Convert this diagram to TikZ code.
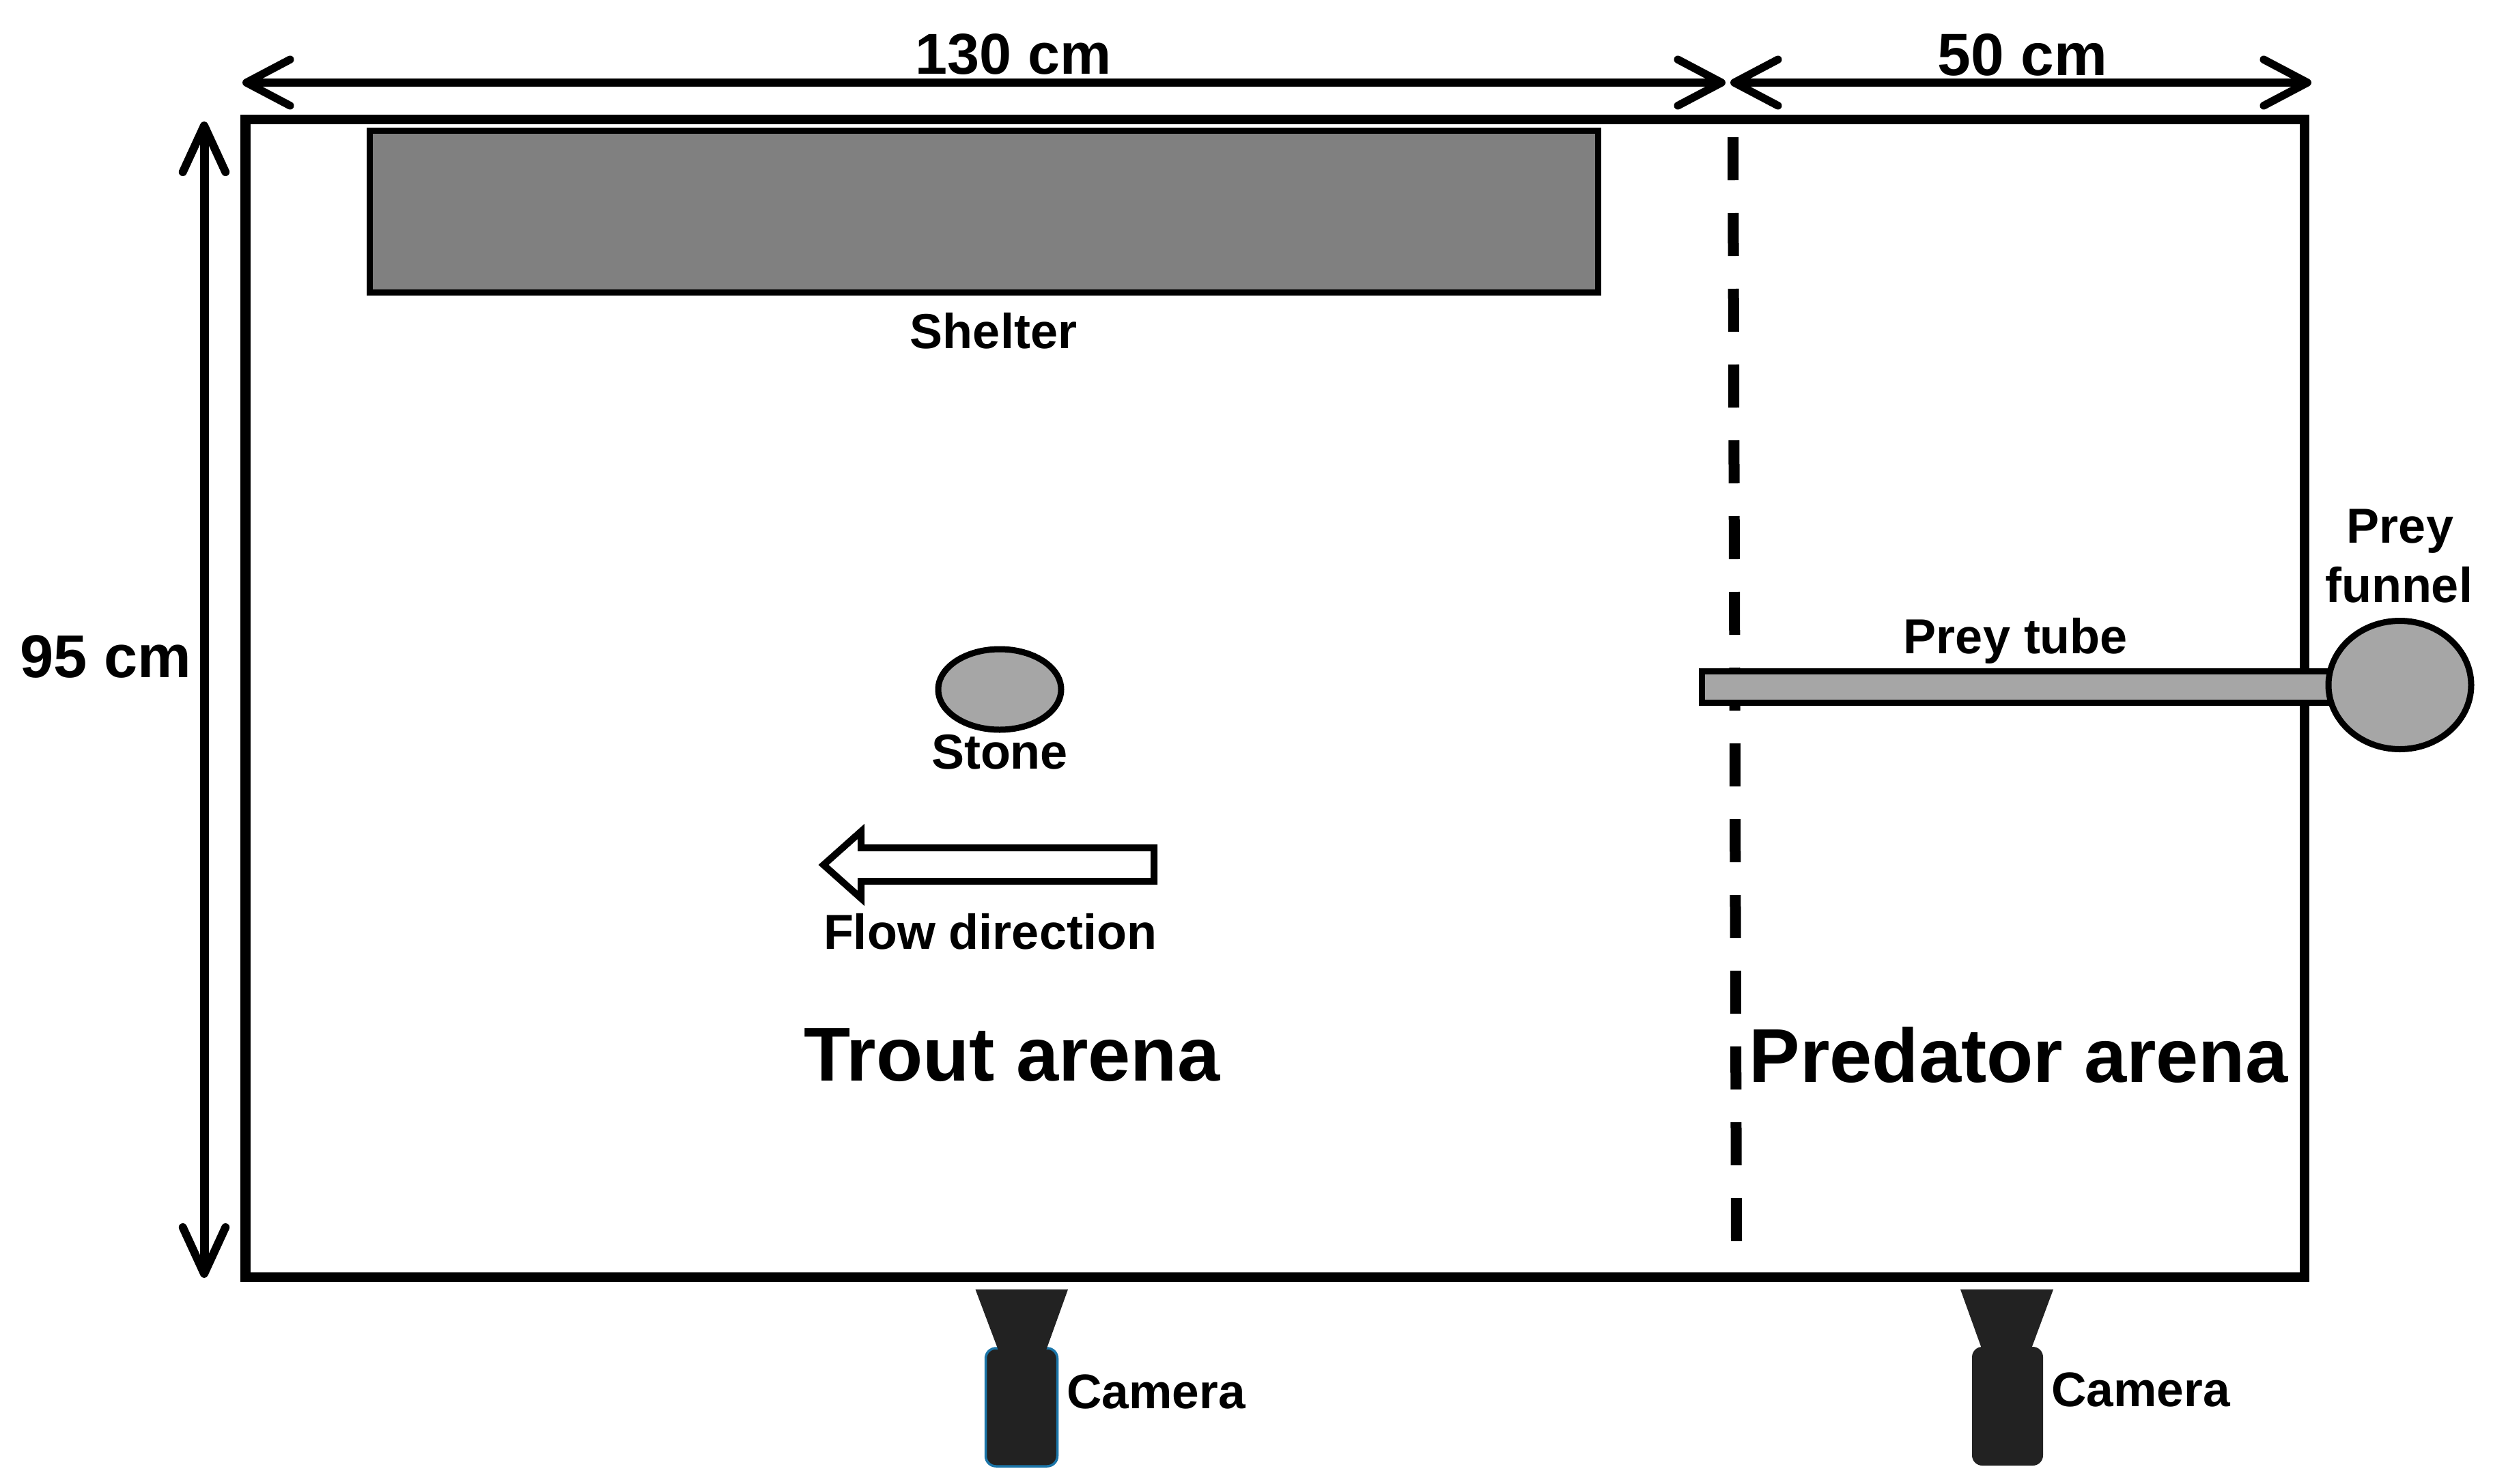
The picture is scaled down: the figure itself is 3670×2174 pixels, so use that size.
\documentclass[tikz,border=0pt]{standalone}
\usepackage{fontspec}
\setmainfont{Liberation Sans}
\usetikzlibrary{arrows.meta}
\definecolor{shelterfill}{HTML}{808080}
\definecolor{stonefill}{HTML}{A6A6A6}
\definecolor{camfill}{HTML}{222222}
\definecolor{camblue}{HTML}{1B75A8}
\tikzset{
  lab/.style={anchor=base,inner sep=0pt,font=\bfseries\fontsize{14.4}{17}\selectfont},
  camlab/.style={anchor=base,inner sep=0pt,font=\bfseries\fontsize{14.25}{17}\selectfont},
  biglab/.style={anchor=base,inner sep=0pt,font=\bfseries\fontsize{22.35}{26}\selectfont},
  dimlab/.style={anchor=base,inner sep=0pt,font=\bfseries\fontsize{17.5}{20}\selectfont},
  hdim/.style={line width=2.3pt,{Straight Barb[length=12.8pt,width=13.5pt,line width=2.3pt,round]}-{Straight Barb[length=12.8pt,width=13.5pt,line width=2.3pt,round]}},
  vdim/.style={line width=2.6pt,{Straight Barb[length=13.6pt,width=12.5pt,line width=2.4pt,round]}-{Straight Barb[length=13.6pt,width=12.5pt,line width=2.4pt,round]}},
  tank/.style={draw=black,line width=2.9pt,miter limit=10},
  part/.style={draw=black,line width=1.8pt},
  divider/.style={draw=black,line width=3.2pt,dash pattern=on 12.6pt off 9.6pt},
  lens/.style={fill=camfill,draw=none},
}
\begin{document}
\begin{tikzpicture}[x=0.2pt,y=-0.2pt]
\useasboundingbox (0,0) rectangle (3670,2174);
\fill[white] (0,0) rectangle (3670,2174);
% tank
\draw[tank] (359.5,175) rectangle (3375,1871);
% shelter
\draw[part,fill=shelterfill] (541,191) rectangle (2340,428);
% divider
\coordinate (divtop) at (2538,201);
\coordinate (divbot) at (2543,1821);
\draw[divider] (divtop) -- (divbot);
% dimension arrows
\coordinate (dimL) at (355,121);
\coordinate (dimM1) at (2527,121);
\coordinate (dimM2) at (2534,121);
\coordinate (dimR) at (3385,121);
\coordinate (dimT) at (299,178);
\coordinate (dimB) at (299,1872);
\draw[hdim] (dimL) -- (dimM1);
\draw[hdim] (dimM2) -- (dimR);
\draw[vdim] (dimT) -- (dimB);
% stone
\draw[part,fill=stonefill] (1464,1010) ellipse [x radius=18pt,y radius=11.8pt];
% flow arrow
\draw[draw=black,line width=2pt,fill=white,miter limit=10]
  (1690,1242) -- (1261,1242) -- (1261,1218) -- (1206,1267) -- (1261,1316) -- (1261,1291) -- (1690,1291) -- cycle;
% prey tube and funnel
\draw[part,fill=stonefill] (2492,983) rectangle (3440,1029);
\draw[part,fill=stonefill] (3514.5,1003.5) ellipse [x radius=20.9pt,y radius=18.8pt];
% cameras
\draw[draw=camblue,line width=0.7pt,fill=camfill,rounded corners=3pt] (1443.5,1975) rectangle (1548.5,2148);
\fill[lens] (1428.5,1889) -- (1564,1889) -- (1532,1978) -- (1462,1978) -- cycle;
\fill[camfill,rounded corners=3pt] (2888,1973) rectangle (2992,2147);
\fill[lens] (2871,1889) -- (3007,1889) -- (2974,1978) -- (2903,1978) -- cycle;
% labels
\node[dimlab,font=\bfseries\fontsize{16.9}{20}\selectfont] (l130) at (1484,108) {130 cm};
\node[dimlab] (l50) at (2962,110) {50 cm};
\node[dimlab,font=\bfseries\fontsize{17.7}{20}\selectfont] (l95) at (155,992) {95 cm};
\node[lab] (lshelter) at (1455,510) {Shelter};
\node[lab] (lstone) at (1464,1126) {Stone};
\node[lab] (lflow) at (1450,1390) {Flow direction};
\node[biglab] (ltrout) at (1482,1583) {Trout arena};
\node[biglab] (lpred) at (2956,1585) {Predator arena};
\node[camlab] (lcam1) at (1693,2063) {Camera};
\node[camlab] (lcam2) at (3135,2060) {Camera};
\node[lab] (ltube) at (2952,957) {Prey tube};
\node[lab] (lprey) at (3515,795) {Prey};
\node[lab] (lfunnel) at (3513,882) {funnel};
\end{tikzpicture}
\end{document}
